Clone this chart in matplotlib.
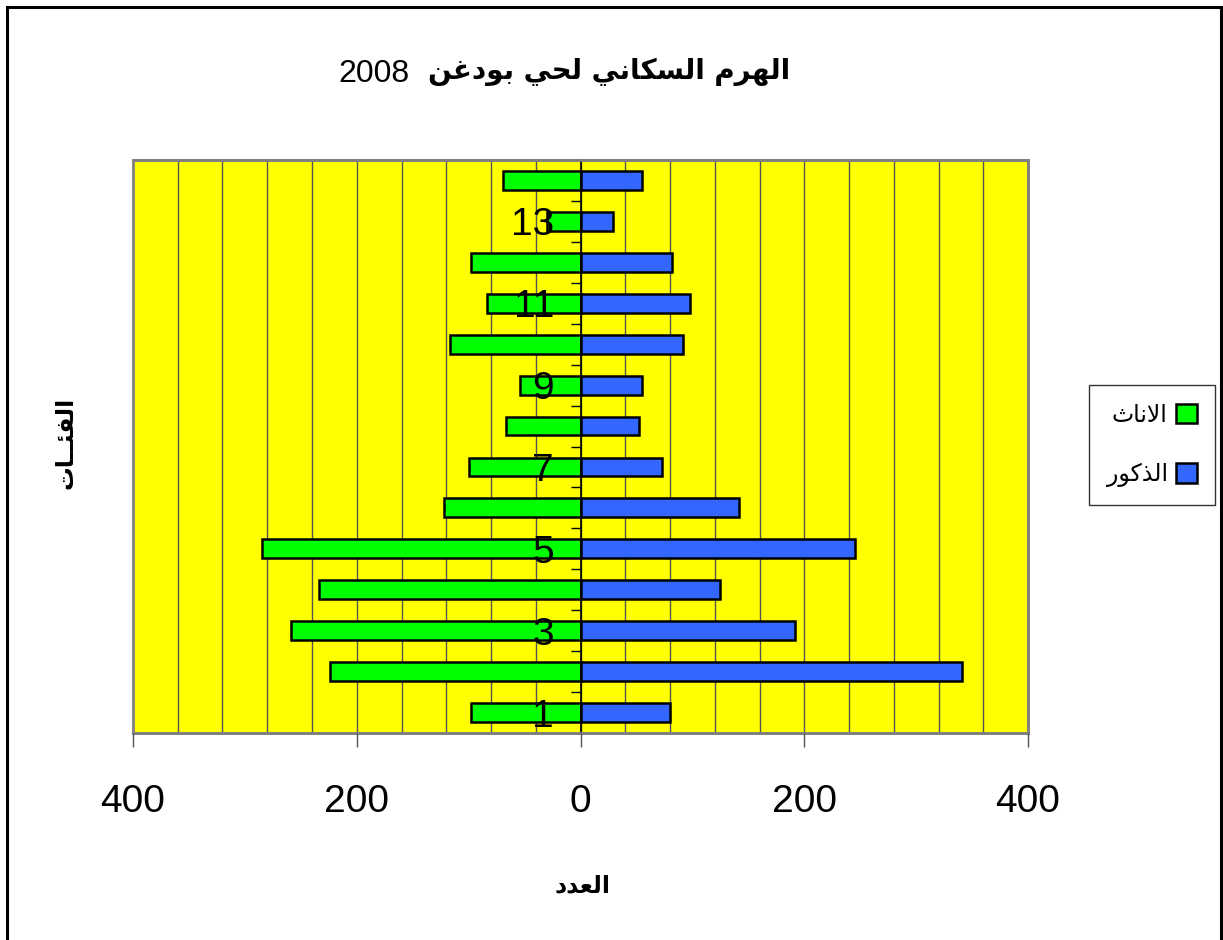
import matplotlib
matplotlib.use("Agg")
import matplotlib.pyplot as plt
import matplotlib.patches as patches
from matplotlib import font_manager
from matplotlib.ticker import FixedLocator, FuncFormatter
import numpy as np

# الفئات العمرية 1..14 وعدد السكان حسب الجنس
categories = list(range(1, 15))
females = [98, 224, 259, 234, 285, 122, 100, 67, 54, 117, 84, 98, 30, 69]
males = [80, 341, 192, 125, 245, 142, 73, 52, 55, 92, 98, 82, 29, 55]
x_ticks = [-400, -200, 0, 200, 400]
y_labels = [1, 3, 5, 7, 9, 11, 13]

title_ar = "الهرم السكاني لحي بودغن"
title_year = "2008"
label_females = "الاناث"
label_males = "الذكور"
x_title = "العدد"
y_title = "الفئــات"

# أشكال الحروف العربية (منفصل، نهائي، بداية، وسط)
FORMS = {
    'ا': ('\uFE8D', '\uFE8E', None, None),
    'ب': ('\uFE8F', '\uFE90', '\uFE91', '\uFE92'),
    'ت': ('\uFE95', '\uFE96', '\uFE97', '\uFE98'),
    'ث': ('\uFE99', '\uFE9A', '\uFE9B', '\uFE9C'),
    'ح': ('\uFEA1', '\uFEA2', '\uFEA3', '\uFEA4'),
    'د': ('\uFEA9', '\uFEAA', None, None),
    'ذ': ('\uFEAB', '\uFEAC', None, None),
    'ر': ('\uFEAD', '\uFEAE', None, None),
    'س': ('\uFEB1', '\uFEB2', '\uFEB3', '\uFEB4'),
    'ع': ('\uFEC9', '\uFECA', '\uFECB', '\uFECC'),
    'غ': ('\uFECD', '\uFECE', '\uFECF', '\uFED0'),
    'ف': ('\uFED1', '\uFED2', '\uFED3', '\uFED4'),
    'ك': ('\uFED9', '\uFEDA', '\uFEDB', '\uFEDC'),
    'ل': ('\uFEDD', '\uFEDE', '\uFEDF', '\uFEE0'),
    'م': ('\uFEE1', '\uFEE2', '\uFEE3', '\uFEE4'),
    'ن': ('\uFEE5', '\uFEE6', '\uFEE7', '\uFEE8'),
    'ه': ('\uFEE9', '\uFEEA', '\uFEEB', '\uFEEC'),
    'و': ('\uFEED', '\uFEEE', None, None),
    'ي': ('\uFEF1', '\uFEF2', '\uFEF3', '\uFEF4'),
    'ئ': ('\uFE89', '\uFE8A', '\uFE8B', '\uFE8C'),
    'ـ': ('\u0640', '\u0640', '\u0640', '\u0640'),
}


def joins_left(c):
    return c in FORMS and FORMS[c][2] is not None


def shape(text):
    """وصل الحروف العربية وعكس الترتيب للعرض من اليمين إلى اليسار"""
    out = []
    i = 0
    while i < len(text):
        c = text[i]
        if c not in FORMS:
            out.append(c)
            i += 1
            continue
        link_prev = i > 0 and joins_left(text[i - 1])
        if c == 'ل' and i + 1 < len(text) and text[i + 1] == 'ا':
            out.append('\uFEFC' if link_prev else '\uFEFB')
            i += 2
            continue
        nxt = text[i + 1] if i + 1 < len(text) else None
        link_next = nxt in FORMS and joins_left(c)
        iso, fin, ini, med = FORMS[c]
        if link_prev and link_next:
            out.append(med)
        elif link_prev:
            out.append(fin)
        elif link_next:
            out.append(ini)
        else:
            out.append(iso)
        i += 1
    return ''.join(reversed(out))


AR_FONT = ['DejaVu Sans']
installed = {f.name for f in font_manager.fontManager.ttflist}
if 'Liberation Sans Narrow' in installed:
    NUM_FONT = ['Liberation Sans Narrow', 'DejaVu Sans']
    num_size = 32
else:
    NUM_FONT = ['Liberation Sans', 'DejaVu Sans']
    num_size = 28

W, H = 1223, 940
fig = plt.figure(figsize=(W / 100, H / 100), dpi=100)
fig.patch.set_facecolor('white')

ax = fig.add_axes([133 / W, 1 - 733 / H, (1028 - 133) / W, (733 - 160) / H])
ax.set_facecolor('#FFFF00')
ax.patch.set_edgecolor('#808080')
ax.patch.set_linewidth(2)

# خطوط الشبكة العمودية خلف الأعمدة
ax.vlines(np.arange(-360, 361, 40), 0, 1, transform=ax.get_xaxis_transform(),
          colors='#555555', linewidth=1, zorder=0.5)

y = np.array(categories)
bar_h = 0.46
ax.barh(y, [-v for v in females], height=bar_h, color='#00FF00',
        edgecolor='black', linewidth=1.8, label=shape(label_females), zorder=1)
ax.barh(y, males, height=bar_h, color='#3366FF',
        edgecolor='black', linewidth=1.8, label=shape(label_males), zorder=1)

ax.set_xlim(-400, 400)
ax.set_ylim(0.5, 14.5)
ax.set_axisbelow(False)

for side in ['top', 'right', 'bottom']:
    ax.spines[side].set_color('#808080')
    ax.spines[side].set_linewidth(2)
ax.spines['left'].set_position(('data', 0))
ax.spines['left'].set_color('black')
ax.spines['left'].set_linewidth(1.2)

ax.xaxis.set_major_locator(FixedLocator(x_ticks))
ax.xaxis.set_major_formatter(FuncFormatter(lambda v, p: f"{abs(int(v))}"))
ax.tick_params(axis='x', direction='out', length=10, width=1, color='#555555',
               pad=27, labelsize=num_size)
for lbl in ax.get_xticklabels():
    lbl.set_family(NUM_FONT)

# علامات الحدود بين الفئات، والتسميات للفئات الفردية
ax.yaxis.set_major_locator(FixedLocator(np.arange(1.5, 14.5, 1)))
ax.yaxis.set_major_formatter(FuncFormatter(lambda v, p: ""))
ax.yaxis.set_minor_locator(FixedLocator(y_labels))
ax.yaxis.set_minor_formatter(FuncFormatter(lambda v, p: f"{int(v)}"))
ax.tick_params(axis='y', which='major', direction='out', length=7, width=1, color='black')
ax.tick_params(axis='y', which='minor', length=0, pad=19, labelsize=num_size)
for lbl in ax.get_yticklabels(minor=True):
    lbl.set_family(NUM_FONT)

# العنوان
fig.text(790 / W, 1 - 72 / H, shape(title_ar), ha='right', va='center',
         fontsize=20, fontweight='bold', family=AR_FONT)
fig.text(338 / W, 1 - 74 / H, title_year, ha='left', va='center',
         fontsize=23, family=['Liberation Sans', 'DejaVu Sans'])

# عناوين المحاور
fig.text(582 / W, 1 - 885 / H, shape(x_title), ha='center', va='center',
         fontsize=17, fontweight='bold', family=AR_FONT)
fig.text(66 / W, 1 - 443 / H, shape(y_title), ha='center', va='center',
         rotation=90, fontsize=17, fontweight='bold', family=AR_FONT)

# مفتاح الرسم
leg = fig.legend(loc='center', bbox_to_anchor=(1152 / W, 1 - 445 / H),
                 markerfirst=False, frameon=True, fancybox=False,
                 prop={'family': AR_FONT, 'size': 17},
                 handlelength=0.9, handleheight=0.9, handletextpad=0.35,
                 labelspacing=1.5, borderpad=0.75, borderaxespad=0)
leg.get_frame().set_edgecolor('black')
leg.get_frame().set_linewidth(1)

# إطار الرسم الخارجي
fig.patches.append(patches.Rectangle((7 / W, -0.01), (1221 - 7) / W, 1.01 - 7 / H,
                                     transform=fig.transFigure, fill=False,
                                     edgecolor='black', linewidth=2.2))

fig.savefig('out.png', dpi=100)
